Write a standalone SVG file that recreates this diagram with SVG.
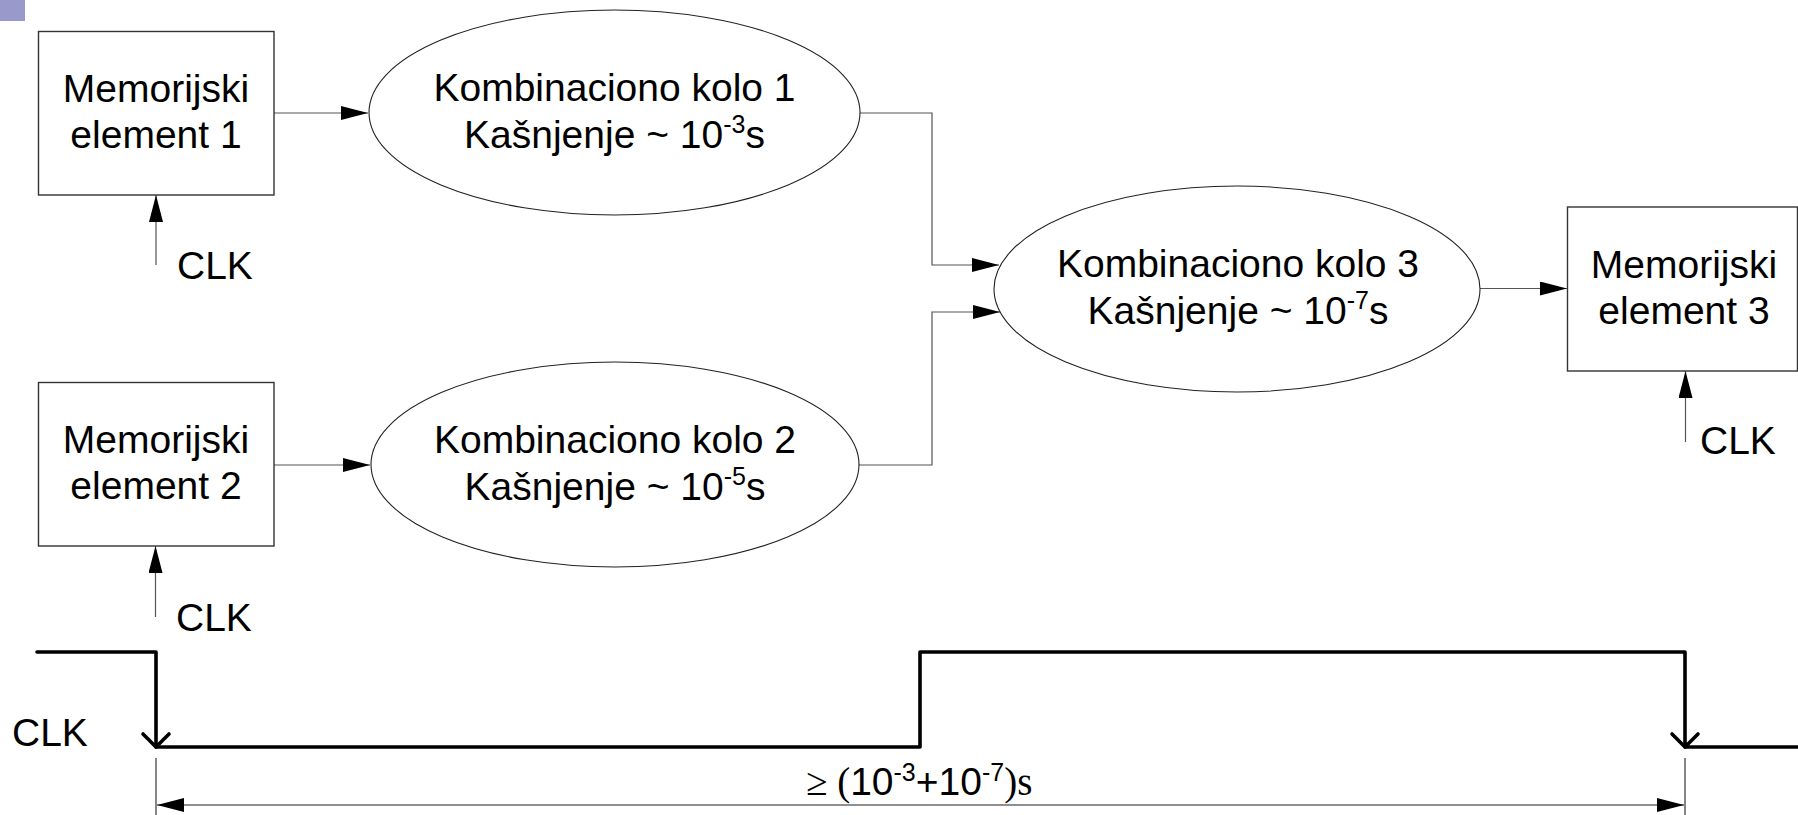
<svg xmlns="http://www.w3.org/2000/svg" width="1798" height="815" viewBox="0 0 1798 815">
<style>
.box{fill:#fff;stroke:#333;stroke-width:1.4}
.ell{fill:#fff;stroke:#222;stroke-width:1.1}
.t{font-family:"Liberation Sans",Arial,sans-serif;font-size:39px;fill:#000}
.m{text-anchor:middle}
.sup{font-size:25px}
.serif{font-family:"Liberation Serif","Times New Roman",serif}
.con{fill:none;stroke:#555;stroke-width:1.2}
.wave{fill:none;stroke:#000;stroke-width:3.6;stroke-linejoin:round;stroke-linecap:round}
.dim{fill:none;stroke:#222;stroke-width:1.1}
</style>
<defs>
<marker id="ah" markerUnits="userSpaceOnUse" viewBox="0 0 27 14" markerWidth="27" markerHeight="14" refX="27" refY="7" orient="auto-start-reverse">
<path d="M0,0 L27,7 L0,14 z" fill="#000"/>
</marker>
</defs>
<rect x="0" y="0" width="25" height="21" fill="#9999cc"/>

<g id="connectors">
<line class="con" x1="274" y1="113" x2="368" y2="113" marker-end="url(#ah)"/>
<line class="con" x1="274" y1="465" x2="370" y2="465" marker-end="url(#ah)"/>
<polyline class="con" points="860,113 932,113 932,265 999,265" marker-end="url(#ah)"/>
<polyline class="con" points="859,465 932,465 932,312 1000,312" marker-end="url(#ah)"/>
<line class="con" x1="1480" y1="288.5" x2="1567" y2="288.5" marker-end="url(#ah)"/>
<line class="con" x1="156" y1="265" x2="156" y2="195" marker-end="url(#ah)"/>
<line class="con" x1="155.5" y1="617" x2="155.5" y2="546" marker-end="url(#ah)"/>
<line class="con" x1="1685.5" y1="442" x2="1685.5" y2="371" marker-end="url(#ah)"/>
</g>

<g id="mem1">
<rect class="box" x="38.5" y="31.5" width="235.5" height="163.5"/>
<text class="t m" x="156" y="102">Memorijski</text>
<text class="t m" x="156" y="148">element 1</text>
</g>
<g id="mem2">
<rect class="box" x="38.5" y="382.5" width="235.5" height="163.5"/>
<text class="t m" x="156" y="453">Memorijski</text>
<text class="t m" x="156" y="499">element 2</text>
</g>
<g id="mem3">
<rect class="box" x="1567.5" y="207" width="230" height="164"/>
<text class="t m" x="1684" y="277.5">Memorijski</text>
<text class="t m" x="1684" y="323.5">element 3</text>
</g>

<g id="komb1">
<ellipse class="ell" cx="614.5" cy="112.5" rx="245.5" ry="102.5"/>
<text class="t m" x="614.5" y="100.5">Kombinaciono kolo 1</text>
<text class="t m" x="614.5" y="147.5">Kašnjenje ~ 10<tspan class="sup" dy="-15">-3</tspan><tspan dy="15">s</tspan></text>
</g>
<g id="komb2">
<ellipse class="ell" cx="615" cy="464.5" rx="244" ry="102.5"/>
<text class="t m" x="615" y="452.5">Kombinaciono kolo 2</text>
<text class="t m" x="615" y="499.5">Kašnjenje ~ 10<tspan class="sup" dy="-15">-5</tspan><tspan dy="15">s</tspan></text>
</g>
<g id="komb3">
<ellipse class="ell" cx="1237" cy="289" rx="243" ry="103"/>
<text class="t m" x="1238" y="277">Kombinaciono kolo 3</text>
<text class="t m" x="1238" y="324">Kašnjenje ~ 10<tspan class="sup" dy="-15">-7</tspan><tspan dy="15">s</tspan></text>
</g>

<g id="clk-labels">
<text class="t" x="177" y="279">CLK</text>
<text class="t" x="176" y="631">CLK</text>
<text class="t" x="1700" y="454">CLK</text>
</g>

<g id="timing">
<text class="t" x="12" y="746">CLK</text>
<polyline class="wave" points="37,652 156,652 156,747 920,747 920,652 1685,652 1685,747 1800,747"/>
<polyline class="wave" points="143,734 156,747 169,734"/>
<polyline class="wave" points="1672,734 1685,747 1698,734"/>
<line class="dim" x1="156" y1="758" x2="156" y2="815" stroke="#888"/>
<line class="dim" x1="1685" y1="758" x2="1685" y2="815"/>
<line class="dim" x1="157" y1="805" x2="1684" y2="805" marker-start="url(#ah)" marker-end="url(#ah)"/>
<text class="t" x="806" y="795"><tspan class="serif">≥ (</tspan>10<tspan class="sup" dy="-14">-3</tspan><tspan dy="14">+10</tspan><tspan class="sup" dy="-14">-7</tspan><tspan class="serif" dy="14">)s</tspan></text>
</g>
</svg>
